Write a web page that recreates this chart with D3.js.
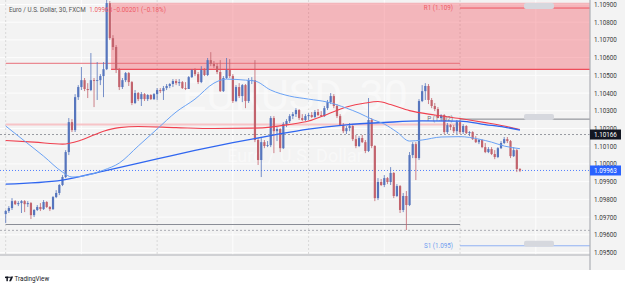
<!DOCTYPE html>
<html>
<head>
<meta charset="utf-8">
<script src="https://cdn.jsdelivr.net/npm/d3@7"></script>
<style>
  body { margin: 0; background: #fff; }
  svg { display: block; font-family: Roboto, "DejaVu Sans", sans-serif; }
</style>
</head>
<body>
<div id="chart"></div>
<script>

// 30 minute bars, index 0 = 26 Apr 00:00 (weekend skipped)
var opens = [
  1.09717,1.09734,1.09751,1.09790,1.09773,1.09779,1.09790,1.09773,1.09779,1.09711,
  1.09740,1.09757,1.09745,1.09785,1.09757,1.09745,1.09813,1.09836,1.09881,1.09926,
  1.10067,1.10236,1.10191,1.10377,1.10434,1.10473,1.10423,1.10417,1.10473,1.10468,
  1.10473,1.10496,1.10535,1.10908,1.10710,1.10660,1.10530,1.10434,1.10473,1.10513,
  1.10462,1.10344,1.10400,1.10366,1.10394,1.10366,1.10389,1.10366,1.10394,1.10417,
  1.10411,1.10428,1.10440,1.10451,1.10468,1.10456,1.10462,1.10428,1.10423,1.10490,
  1.10530,1.10507,1.10462,1.10530,1.10502,1.10586,1.10564,1.10552,1.10519,1.10411,
  1.10485,1.10530,1.10496,1.10355,1.10434,1.10383,1.10445,1.10355,1.10473,1.10473,
  1.10135,1.10022,1.10123,1.10101,1.10106,1.10259,1.10185,1.10197,1.10089,1.10225,
  1.10242,1.10270,1.10281,1.10304,1.10259,1.10248,1.10270,1.10276,1.10265,1.10293,
  1.10276,1.10270,1.10315,1.10349,1.10383,1.10327,1.10270,1.10219,1.10185,1.10202,
  1.10214,1.10140,1.10101,1.10146,1.10123,1.10073,1.10248,1.10101,1.09807,1.09898,
  1.09881,1.09920,1.09898,1.09949,1.09819,1.09875,1.09740,1.09819,1.09768,1.10050,
  1.10112,1.10033,1.10355,1.10411,1.10440,1.10361,1.10327,1.10310,1.10259,1.10276,
  1.10180,1.10219,1.10208,1.10185,1.10236,1.10180,1.10214,1.10174,1.10180,1.10140,
  1.10123,1.10135,1.10095,1.10067,1.10084,1.10056,1.10039,1.10089,1.10118,1.10140,
  1.10129,1.10044,1.10078,1.09971
];
var highs = [
  1.09740,1.09762,1.09807,1.09796,1.09790,1.09796,1.09796,1.09790,1.09785,1.09745,
  1.09768,1.09779,1.09796,1.09790,1.09762,1.09819,1.09852,1.09886,1.09937,1.10078,
  1.10259,1.10253,1.10394,1.10445,1.10547,1.10485,1.10456,1.10626,1.10485,1.10575,
  1.10507,1.10575,1.10942,1.10919,1.10727,1.10671,1.10541,1.10485,1.10519,1.10519,
  1.10468,1.10417,1.10406,1.10406,1.10400,1.10394,1.10394,1.10400,1.10428,1.10428,
  1.10440,1.10451,1.10456,1.10479,1.10479,1.10479,1.10468,1.10462,1.10496,1.10535,
  1.10541,1.10519,1.10552,1.10541,1.10598,1.10631,1.10581,1.10569,1.10586,1.10496,
  1.10598,1.10592,1.10507,1.10445,1.10456,1.10451,1.10451,1.10485,1.10490,1.10586,
  1.10146,1.10146,1.10135,1.10129,1.10270,1.10270,1.10208,1.10202,1.10236,1.10253,
  1.10281,1.10293,1.10315,1.10310,1.10281,1.10281,1.10287,1.10293,1.10304,1.10310,
  1.10298,1.10327,1.10361,1.10400,1.10394,1.10338,1.10281,1.10231,1.10214,1.10231,
  1.10219,1.10163,1.10157,1.10163,1.10135,1.10372,1.10259,1.10106,1.09920,1.09915,
  1.09937,1.09926,1.09982,1.09954,1.09886,1.09881,1.09836,1.09847,1.10067,1.10123,
  1.10123,1.10366,1.10445,1.10456,1.10451,1.10372,1.10344,1.10321,1.10281,1.10281,
  1.10231,1.10225,1.10219,1.10248,1.10259,1.10225,1.10219,1.10185,1.10185,1.10157,
  1.10140,1.10140,1.10118,1.10095,1.10095,1.10078,1.10095,1.10129,1.10152,1.10152,
  1.10135,1.10095,1.10084,1.09977
];
var lows = [
  1.09666,1.09723,1.09740,1.09768,1.09762,1.09723,1.09728,1.09757,1.09689,1.09700,
  1.09734,1.09734,1.09740,1.09751,1.09734,1.09740,1.09807,1.09824,1.09875,1.09920,
  1.10050,1.10180,1.10180,1.10361,1.10417,1.10411,1.10372,1.10411,1.10321,1.10361,
  1.10445,1.10377,1.10530,1.10699,1.10643,1.10513,1.10417,1.10423,1.10462,1.10440,
  1.10332,1.10338,1.10355,1.10327,1.10355,1.10355,1.10361,1.10361,1.10361,1.10400,
  1.10361,1.10417,1.10428,1.10434,1.10445,1.10440,1.10423,1.10417,1.10423,1.10485,
  1.10496,1.10451,1.10456,1.10496,1.10496,1.10552,1.10541,1.10507,1.10406,1.10406,
  1.10479,1.10485,1.10344,1.10349,1.10372,1.10349,1.10315,1.10344,1.10451,1.10123,
  1.09994,1.09926,1.10089,1.10095,1.10095,1.10061,1.10129,1.10067,1.10084,1.10208,
  1.10231,1.10253,1.10265,1.10248,1.10242,1.10242,1.10248,1.10259,1.10259,1.10270,
  1.10265,1.10265,1.10304,1.10338,1.10315,1.10259,1.10214,1.10174,1.10169,1.10185,
  1.10129,1.10089,1.10095,1.10118,1.10061,1.10067,1.10089,1.09790,1.09796,1.09875,
  1.09869,1.09886,1.09881,1.09807,1.09813,1.09723,1.09728,1.09627,1.09762,1.10033,
  1.09909,1.10022,1.10349,1.10361,1.10338,1.10315,1.10298,1.10259,1.10242,1.10169,
  1.10169,1.10191,1.10174,1.10169,1.10169,1.10169,1.10169,1.10157,1.10135,1.10118,
  1.10112,1.10089,1.10061,1.10061,1.10050,1.10027,1.10033,1.10084,1.10112,1.10118,
  1.10033,1.10039,1.09954,1.09954
];
var closes = [
  1.09734,1.09751,1.09790,1.09773,1.09779,1.09790,1.09773,1.09779,1.09711,1.09740,
  1.09757,1.09745,1.09785,1.09757,1.09745,1.09813,1.09836,1.09881,1.09926,1.10067,
  1.10236,1.10191,1.10377,1.10434,1.10473,1.10423,1.10417,1.10473,1.10468,1.10473,
  1.10496,1.10535,1.10908,1.10710,1.10660,1.10530,1.10434,1.10473,1.10513,1.10462,
  1.10344,1.10400,1.10366,1.10394,1.10366,1.10389,1.10366,1.10394,1.10417,1.10411,
  1.10428,1.10440,1.10451,1.10468,1.10456,1.10462,1.10428,1.10423,1.10490,1.10530,
  1.10507,1.10462,1.10530,1.10502,1.10586,1.10564,1.10552,1.10519,1.10411,1.10485,
  1.10530,1.10496,1.10355,1.10434,1.10383,1.10445,1.10355,1.10473,1.10473,1.10135,
  1.10022,1.10123,1.10101,1.10106,1.10259,1.10185,1.10197,1.10089,1.10225,1.10242,
  1.10270,1.10281,1.10304,1.10259,1.10248,1.10270,1.10276,1.10265,1.10293,1.10276,
  1.10270,1.10315,1.10349,1.10383,1.10327,1.10270,1.10219,1.10185,1.10202,1.10214,
  1.10140,1.10101,1.10146,1.10123,1.10073,1.10248,1.10101,1.09807,1.09898,1.09881,
  1.09920,1.09898,1.09949,1.09819,1.09875,1.09740,1.09819,1.09768,1.10050,1.10112,
  1.10033,1.10355,1.10411,1.10440,1.10361,1.10327,1.10310,1.10259,1.10276,1.10180,
  1.10219,1.10208,1.10185,1.10236,1.10180,1.10214,1.10174,1.10180,1.10140,1.10123,
  1.10135,1.10095,1.10067,1.10084,1.10056,1.10039,1.10089,1.10118,1.10140,1.10129,
  1.10044,1.10078,1.09971,1.09963
];

// moving averages at some bar indexes
var fastIdx = [0,6,12,18,21,26,31,36,42,48,54,60,66,70,76,79,84,90,96,102,108,112,116,120,124,128,132,138,144,150,154,158,163];
var fastVal = [1.10214,1.10129,1.10044,1.09954,1.09926,1.09937,1.09965,1.10005,1.10101,1.10197,1.10293,1.10366,1.10456,1.10479,1.10473,1.10468,1.10417,1.10383,1.10366,1.10349,1.10315,1.10287,1.10253,1.10225,1.10180,1.10129,1.10135,1.10152,1.10154,1.10140,1.10123,1.10101,1.10086];
var slowIdx = [0,18,31,48,60,72,84,96,108,120,132,144,152,158,163];
var slowVal = [1.09886,1.09909,1.09960,1.10028,1.10076,1.10120,1.10160,1.10197,1.10221,1.10234,1.10243,1.10242,1.10222,1.10208,1.10191];
var midIdx = [0,9,18,24,31,36,42,54,66,78,84,90,96,102,108,114,118,122,128,136,144,152,158,163];
var midVal = [1.10132,1.10123,1.10112,1.10135,1.10185,1.10205,1.10211,1.10205,1.10200,1.10202,1.10208,1.10223,1.10242,1.10281,1.10321,1.10344,1.10352,1.10335,1.10301,1.10276,1.10256,1.10233,1.10214,1.10194];

// pivot levels: previous period up to bar 144, new one after
var pivotStart = 144;
var prevPivots = [1.10568, 1.10222, 1.09658];
var curPivots = [1.10880, 1.10253, 1.09538];
var curPivotLabels = ["R1 (1.109)", "P (1.102)", "S1 (1.095)"];

// horizontal price lines
var lastClose = 1.09963;
var refLine = 1.10166;
var lowLine = 1.09625;

// zone rectangle (bar index, prices)
var zoneStart = 33.4;
var zoneTop = 1.10910, zoneBottom = 1.10534;

var priceTicks = [1.095,1.096,1.097,1.098,1.099,1.100,1.101,1.102,1.103,1.104,1.105,1.106,1.107,1.108,1.109];
var timeTicks = [0, 24, 48, 72, 96, 120, 144, 168];
var timeLabels = ["26", "12:00", "27", "12:00", "28", "12:00", "May", "12:00"];
var dayStarts = [0, 48, 96, 144];

var W = 625, H = 288;
var plotRight = 590, plotBottom = 255, axisBottom = 270;
var upColor = "#5675bd", downColor = "#c2636d";

var x = d3.scaleLinear().domain([0, 168]).range([5.7, 535.74]);
var y = d3.scaleLinear().domain([1.095, 1.109]).range([252.5, 4.5]);

var svg = d3.select("#chart").append("svg")
    .attr("width", W)
    .attr("height", H);

svg.append("rect").attr("width", W).attr("height", H).attr("fill", "#fff");
svg.append("rect").attr("width", W).attr("height", axisBottom).attr("fill", "#f3f3f3");

var defs = svg.append("defs");
defs.append("clipPath").attr("id", "plotClip")
  .append("rect").attr("x", 0).attr("y", 0).attr("width", plotRight).attr("height", plotBottom);
defs.append("clipPath").attr("id", "timeClip")
  .append("rect").attr("x", 4.6).attr("y", plotBottom).attr("width", plotRight - 4.6).attr("height", axisBottom - plotBottom);

var plot = svg.append("g").attr("clip-path", "url(#plotClip)");

///grid
plot.selectAll(".hgrid").data(priceTicks).enter().append("line")
    .attr("x1", 0).attr("x2", plotRight)
    .attr("y1", function(d) { return y(d); })
    .attr("y2", function(d) { return y(d); })
    .attr("stroke", "#fdfdfd").attr("stroke-width", 1);

plot.selectAll(".vgrid").data(timeTicks).enter().append("line")
    .attr("x1", function(d) { return x(d); })
    .attr("x2", function(d) { return x(d); })
    .attr("y1", 0).attr("y2", plotBottom)
    .attr("stroke", function(d) { return dayStarts.indexOf(d) >= 0 ? "#d8d8d8" : "#fdfdfd"; })
    .attr("stroke-dasharray", function(d) { return dayStarts.indexOf(d) >= 0 ? "2,2" : null; })
    .attr("stroke-width", 1);

// watermark
plot.append("text")
    .attr("x", 295).attr("y", 110)
    .attr("text-anchor", "middle")
    .attr("font-size", 43)
    .attr("fill", "#ffffff").attr("fill-opacity", 0.45)
    .text("EURUSD, 30");
plot.append("text")
    .attr("x", 295).attr("y", 162)
    .attr("text-anchor", "middle")
    .attr("font-size", 18)
    .attr("fill", "#ffffff").attr("fill-opacity", 0.45)
    .text("Euro / U.S. Dollar");

// legend
svg.append("text").attr("x", 9).attr("y", 12.2)
    .attr("font-size", 6.3).attr("fill", "#555")
    .text("Euro / U.S. Dollar, 30, FXCM");
svg.append("text").attr("x", 89.3).attr("y", 12.2)
    .attr("font-size", 6.3).attr("fill", "#ef5a66")
    .text("1.09963");
svg.append("text").attr("x", 113).attr("y", 12.2)
    .attr("font-size", 6.3).attr("fill", "#ef5a66")
    .text("\u22120.00201 (\u22120.18%)");

// zone
plot.append("rect")
    .attr("x", x(zoneStart))
    .attr("y", y(zoneTop))
    .attr("width", plotRight - x(zoneStart))
    .attr("height", y(zoneBottom) - y(zoneTop))
    .attr("fill", "#f23645").attr("fill-opacity", 0.32);
plot.append("line")
    .attr("x1", x(zoneStart)).attr("x2", plotRight)
    .attr("y1", y(zoneBottom)).attr("y2", y(zoneBottom))
    .attr("stroke", "#ee4d5a").attr("stroke-width", 1.2);

// previous period pivots
var prevColors = ["#e8707a", "#f7c4c7", "#8a8d96"];
var prevWidths = [1, 2, 1];
plot.selectAll(".prevPivot").data(prevPivots).enter().append("line")
    .attr("x1", x(0)).attr("x2", x(pivotStart))
    .attr("y1", function(d) { return y(d); })
    .attr("y2", function(d) { return y(d); })
    .attr("stroke", function(d, i) { return prevColors[i]; })
    .attr("stroke-width", function(d, i) { return prevWidths[i]; });

// current pivots
var curColors = ["#ef5561", "#80838c", "#8fb1f3"];
var curTextColors = ["#ef5a66", "#6f727b", "#6f9cf0"];
plot.selectAll(".curPivot").data(curPivots).enter().append("line")
    .attr("x1", x(pivotStart)).attr("x2", plotRight)
    .attr("y1", function(d) { return y(d); })
    .attr("y2", function(d) { return y(d); })
    .attr("stroke", function(d, i) { return curColors[i]; })
    .attr("stroke-width", 1);
plot.selectAll(".curPivotLabel").data(curPivots).enter().append("text")
    .attr("x", x(pivotStart) - 7)
    .attr("y", function(d) { return y(d); })
    .attr("dy", "0.35em")
    .attr("text-anchor", "end")
    .attr("font-size", 6.3)
    .attr("fill", function(d, i) { return curTextColors[i]; })
    .text(function(d, i) { return curPivotLabels[i]; });
plot.selectAll(".curPivotBox").data(curPivots).enter().append("rect")
    .attr("x", 524).attr("width", 30)
    .attr("y", function(d) { return y(d) - 5; })
    .attr("height", 6).attr("rx", 2)
    .attr("fill", "#d6d8de");

// price lines
plot.append("line")
    .attr("x1", 0).attr("x2", plotRight)
    .attr("y1", y(refLine)).attr("y2", y(refLine))
    .attr("stroke", "#7f828a").attr("stroke-width", 0.8).attr("stroke-dasharray", "2,2");
plot.append("line")
    .attr("x1", 0).attr("x2", plotRight)
    .attr("y1", y(lowLine)).attr("y2", y(lowLine))
    .attr("stroke", "#9a9da5").attr("stroke-width", 0.8).attr("stroke-dasharray", "2,2");
plot.append("line")
    .attr("x1", 0).attr("x2", plotRight)
    .attr("y1", y(lastClose)).attr("y2", y(lastClose))
    .attr("stroke", "#2962ff").attr("stroke-width", 0.8).attr("stroke-dasharray", "1,2");

// candles
var bars = d3.range(closes.length);
plot.selectAll(".wick").data(bars).enter().append("line")
    .attr("x1", function(i) { return x(i); })
    .attr("x2", function(i) { return x(i); })
    .attr("y1", function(i) { return y(highs[i]); })
    .attr("y2", function(i) { return y(lows[i]); })
    .attr("stroke", function(i) { return closes[i] >= opens[i] ? upColor : downColor; })
    .attr("stroke-width", 0.8);
plot.selectAll(".body").data(bars).enter().append("rect")
    .attr("x", function(i) { return x(i) - 1.1; })
    .attr("width", 2.2)
    .attr("y", function(i) { return y(Math.max(opens[i], closes[i])); })
    .attr("height", function(i) { return Math.max(0.8, Math.abs(y(opens[i]) - y(closes[i]))); })
    .attr("fill", function(i) { return closes[i] >= opens[i] ? upColor : downColor; });

// moving averages
function maLine(idx, vals, color, width) {
    var line = d3.line()
        .x(function(d, i) { return x(idx[i]); })
        .y(function(d) { return y(d); })
        .curve(d3.curveMonotoneX);
    plot.append("path")
        .attr("d", line(vals))
        .attr("fill", "none")
        .attr("stroke", color)
        .attr("stroke-width", width);
}
maLine(midIdx, midVal, "#f0404f", 1.1);
maLine(slowIdx, slowVal, "#2f66f0", 1.3);
maLine(fastIdx, fastVal, "#6aa2f5", 1);

// axes
var yAxis = d3.axisRight(y)
    .tickValues(priceTicks)
    .tickFormat(d3.format(".5f"))
    .tickSize(0)
    .tickPadding(4);
var yg = svg.append("g")
    .attr("transform", "translate(" + plotRight + ",0)")
    .call(yAxis);
yg.select(".domain").remove();
yg.attr("font-family", null).attr("font-size", null);
yg.selectAll("text").attr("font-size", 6.3).attr("fill", "#3a3a3a");

var xAxis = d3.axisBottom(x)
    .tickValues(timeTicks)
    .tickFormat(function(d, i) { return timeLabels[i]; })
    .tickSize(0)
    .tickPadding(6);
var xg = svg.append("g")
    .attr("transform", "translate(0," + plotBottom + ")")
    .attr("clip-path", "url(#timeClip)")
    .call(xAxis);
xg.select(".domain").remove();
xg.attr("font-family", null).attr("font-size", null);
xg.selectAll("text")
    .attr("font-size", 6.3)
    .attr("fill", "#555")
    .attr("font-weight", function(d, i) { return timeLabels[i] === "May" ? 700 : null; });

// axis borders
svg.append("line")
    .attr("x1", plotRight).attr("x2", plotRight)
    .attr("y1", 0).attr("y2", axisBottom)
    .attr("stroke", "#aeb0b6").attr("stroke-width", 1.2);
svg.append("line")
    .attr("x1", 0).attr("x2", plotRight)
    .attr("y1", plotBottom).attr("y2", plotBottom)
    .attr("stroke", "#aeb0b6").attr("stroke-width", 1.2);

// last price tags
function priceTag(v, color) {
    svg.append("rect")
        .attr("x", plotRight).attr("y", y(v) - 5)
        .attr("width", 31).attr("height", 10)
        .attr("fill", color);
    svg.append("text")
        .attr("x", plotRight + 4).attr("y", y(v))
        .attr("dy", "0.35em")
        .attr("font-size", 6.3).attr("fill", "#fff")
        .text(d3.format(".5f")(v));
}
priceTag(refLine, "#131722");
priceTag(lastClose, "#2962ff");

// TradingView logo
var logo = svg.append("g").attr("fill", "#131722");
logo.append("rect").attr("x", 5).attr("y", 276.6).attr("width", 3.8).attr("height", 1.5);
logo.append("rect").attr("x", 6.4).attr("y", 276.6).attr("width", 1.5).attr("height", 4.6);
logo.append("circle").attr("cx", 10).attr("cy", 277.4).attr("r", 0.8);
logo.append("path").attr("d", "M11.2,276.6 L13.2,276.6 L11,281.2 L9.1,281.2 Z");
svg.append("text").attr("x", 14.5).attr("y", 281.2)
    .attr("font-size", 6.3).attr("fill", "#131722")
    .text("TradingView");

</script>
</body>
</html>
